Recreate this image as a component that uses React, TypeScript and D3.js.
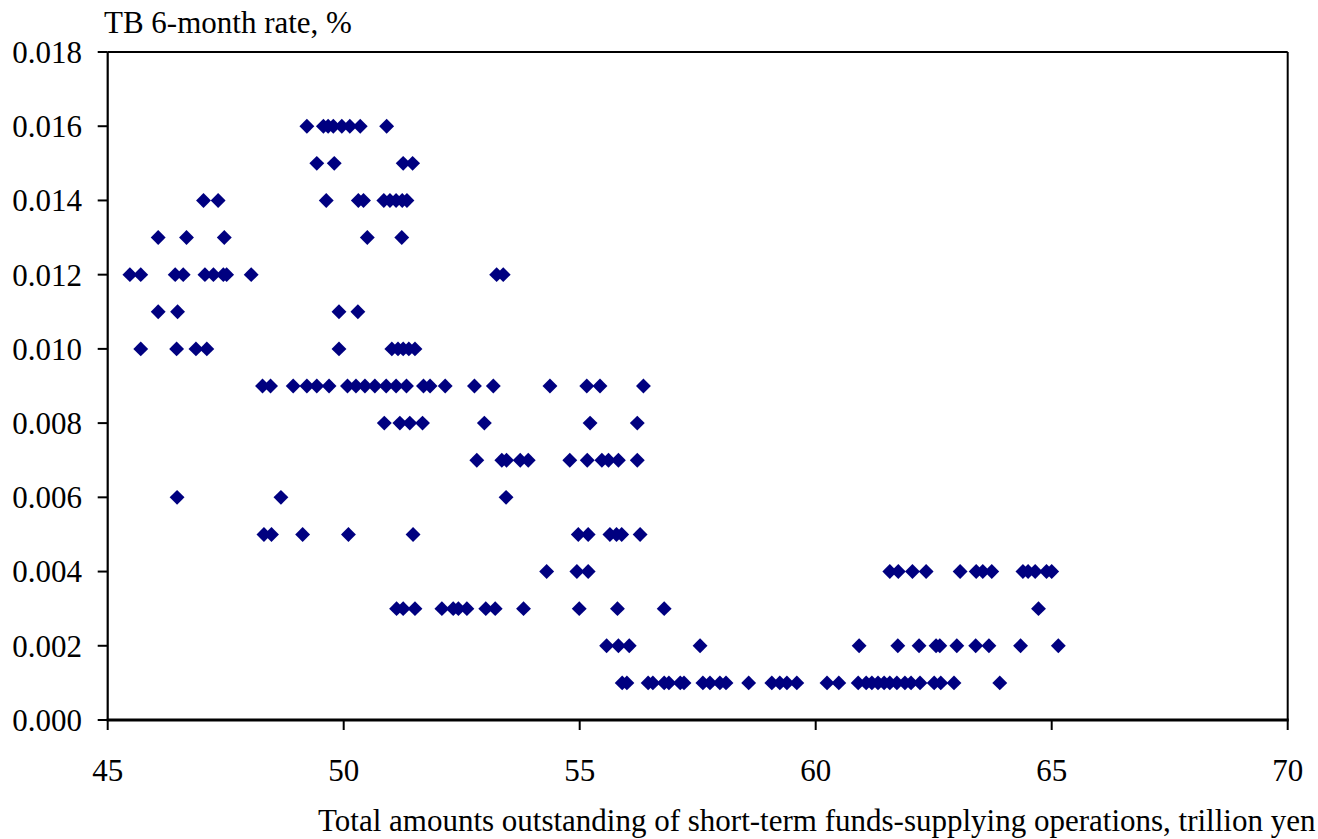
import React from "react";
import * as d3 from "d3";

// Total amounts outstanding (trillion yen) for each TB 6-month rate level (%)
const amt016 = [49.22, 49.57, 49.67, 49.78, 49.96, 50.13, 50.35, 50.91];
const amt015 = [49.43, 49.8, 51.26, 51.46];
const amt014 = [47.03, 47.34, 49.63, 50.31, 50.42, 50.85, 50.98, 51.11, 51.24, 51.34];
const amt013 = [46.07, 46.67, 47.47, 50.5, 51.23];
const amt012 = [45.47, 45.7, 46.43, 46.6, 47.06, 47.24, 47.45, 47.52, 48.04, 53.24, 53.38];
const amt011 = [46.07, 46.48, 49.9, 50.3];
const amt010 = [45.7, 46.46, 46.87, 47.1, 49.9, 51.02, 51.15, 51.26, 51.38, 51.51];
const amt009 = [48.28, 48.45, 48.93, 49.22, 49.43, 49.69, 50.08, 50.26, 50.45, 50.66, 50.9, 51.11, 51.33, 51.69, 51.83, 52.15, 52.77, 53.17, 54.37, 55.15, 55.43, 56.35];
const amt008 = [50.86, 51.19, 51.4, 51.67, 52.98, 55.22, 56.22];
const amt007 = [52.82, 53.35, 53.45, 53.74, 53.91, 54.79, 55.16, 55.47, 55.61, 55.82, 56.22];
const amt006 = [46.47, 48.67, 53.44];
const amt005 = [48.31, 48.47, 49.13, 50.1, 51.47, 54.97, 55.18, 55.64, 55.78, 55.89, 56.28];
const amt004 = [54.3, 54.94, 55.18, 61.57, 61.75, 62.05, 62.34, 63.06, 63.4, 63.54, 63.73, 64.39, 64.5, 64.65, 64.89, 65.0];
const amt003 = [51.12, 51.26, 51.51, 52.08, 52.32, 52.43, 52.61, 53.01, 53.21, 53.81, 54.99, 55.8, 56.79, 64.72];
const amt002 = [55.57, 55.82, 56.05, 57.55, 60.92, 61.74, 62.19, 62.55, 62.63, 62.99, 63.39, 63.67, 64.34, 65.14];
const amt001 = [55.9, 56.0, 56.45, 56.55, 56.79, 56.89, 57.13, 57.21, 57.61, 57.76, 57.97, 58.1, 58.58, 59.07, 59.24, 59.39, 59.6, 60.24, 60.49, 60.9, 61.07, 61.19, 61.32, 61.45, 61.57, 61.72, 61.89, 62.02, 62.21, 62.51, 62.65, 62.93, 63.9];

const rateLevels = [0.016, 0.015, 0.014, 0.013, 0.012, 0.011, 0.01, 0.009, 0.008, 0.007, 0.006, 0.005, 0.004, 0.003, 0.002, 0.001];
const amountsByRate = [amt016, amt015, amt014, amt013, amt012, amt011, amt010, amt009, amt008, amt007, amt006, amt005, amt004, amt003, amt002, amt001];

const xTicks = [45, 50, 55, 60, 65, 70];
const yTicks = [0, 0.002, 0.004, 0.006, 0.008, 0.01, 0.012, 0.014, 0.016, 0.018];

const yTitle = "TB 6-month rate, %";
const xTitle = "Total amounts outstanding of short-term funds-supplying operations, trillion yen";

const points = rateLevels.flatMap((r, i) => amountsByRate[i].map((a) => ({ x: a, y: r })));

export default function App() {
  const W = 1318;
  const H = 839;
  const left = 107.7;
  const right = 1287.7;
  const top = 52;
  const bottom = 720;
  const x = d3.scaleLinear().domain([45, 70]).range([left, right]);
  const y = d3.scaleLinear().domain([0, 0.018]).range([bottom, top]);
  const font = "'Liberation Serif', 'Times New Roman', serif";
  const fs = 31;
  const r = 8.4;
  const diamond = d3.symbol().type(d3.symbolDiamond2).size(2 * r * r)();

  return (
    <svg
      width={W}
      height={H}
      style={{ position: "absolute", left: 0, top: 0, background: "#fff" }}
      fontFamily={font}
    >
      <rect x={0} y={0} width={W} height={H} fill="#fff" />
      {/* frame */}
      <line x1={left} x2={right} y1={top} y2={top} stroke="#000" strokeWidth={2} />
      <line x1={right} x2={right} y1={top} y2={bottom} stroke="#000" strokeWidth={2} />
      <line x1={left} x2={left} y1={top} y2={bottom} stroke="#000" strokeWidth={2.2} />
      <line x1={left - 1} x2={right + 1} y1={bottom} y2={bottom} stroke="#000" strokeWidth={3} />
      {/* y ticks */}
      {yTicks.map((t) => (
        <g key={"y" + t}>
          <line x1={left - 10} x2={left} y1={y(t)} y2={y(t)} stroke="#000" strokeWidth={2} />
          <text x={82} y={y(t)} dy="0.35em" textAnchor="end" fontSize={fs} fill="#000">
            {d3.format(".3f")(t)}
          </text>
        </g>
      ))}
      {/* x ticks */}
      {xTicks.map((t) => (
        <g key={"x" + t}>
          <line x1={x(t)} x2={x(t)} y1={bottom} y2={bottom + 10} stroke="#000" strokeWidth={2} />
          <text x={x(t)} y={781} textAnchor="middle" fontSize={fs} fill="#000">
            {t}
          </text>
        </g>
      ))}
      {/* points */}
      {points.map((p, i) => (
        <path key={i} d={diamond as string} transform={`translate(${x(p.x)},${y(p.y)})`} fill="#000080" />
      ))}
      <text x={104} y={33} fontSize={fs} fill="#000">
        {yTitle}
      </text>
      <text x={318} y={831} fontSize={fs} fill="#000">
        {xTitle}
      </text>
    </svg>
  );
}
